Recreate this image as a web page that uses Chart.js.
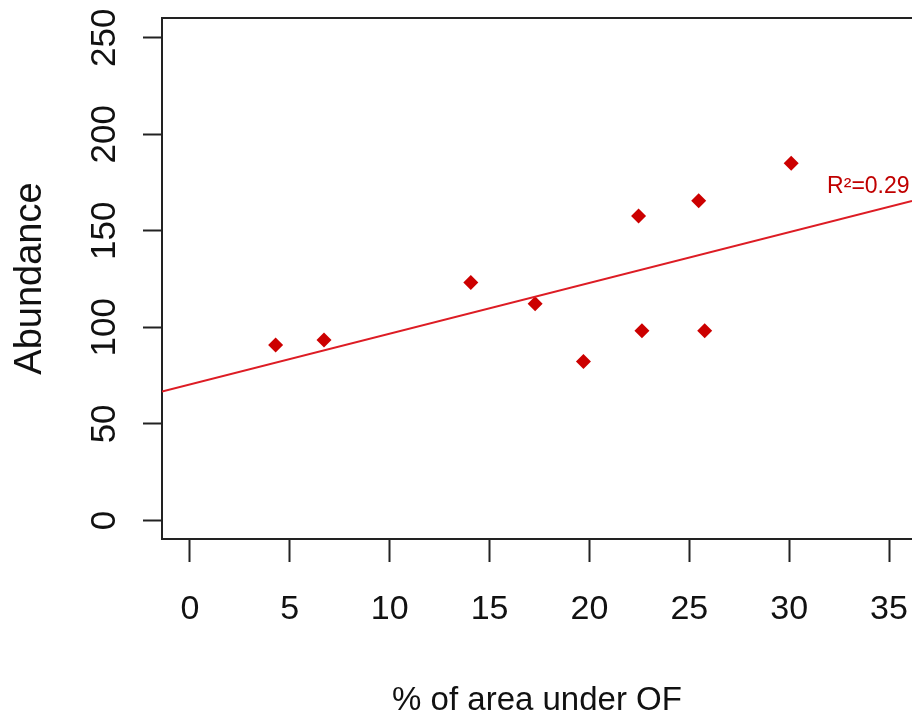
<!DOCTYPE html>
<html>
<head>
<meta charset="utf-8">
<script src="https://cdn.jsdelivr.net/npm/chart.js@4.4.1/dist/chart.umd.min.js"></script>
<style>
    html, body { margin: 0; padding: 0; background: #fff; }
    #wrap { width: 912px; height: 719px; }
</style>
</head>
<body>
<div id="wrap"><canvas id="abundanceChart" width="912" height="719"></canvas></div>
<script>
// values
const coverPct = [4.29, 6.71, 14.06, 17.28, 19.7, 22.46, 22.63, 25.47, 25.77, 30.1];
const abundance = [90.9, 93.4, 123.2, 112.2, 82.3, 157.7, 98.3, 165.5, 98.3, 185.0];

// regression line, both ends as seen at the frame edges
const fitX = [-1.4, 36.15];
const fitY = [66.8, 165.5];

const xTicks = [0, 5, 10, 15, 20, 25, 30, 35];
const yTicks = [0, 50, 100, 150, 200, 250];

const r2Label = 'R\u00B2=0.29';
const r2X = 31.9;
const r2Y = 169.6;

const axisColor = '#222';

// top edge of the R plot box (right edge is cut off in the source image)
const boxTopPlugin = {
    id: 'boxTop',
    afterDraw(chart) {
        const { ctx, chartArea } = chart;
        ctx.save();
        ctx.strokeStyle = axisColor;
        ctx.lineWidth = 2;
        ctx.beginPath();
        ctx.moveTo(chartArea.left - 1, chartArea.top);
        ctx.lineTo(chartArea.right, chartArea.top);
        ctx.stroke();
        ctx.restore();
    }
};

const r2Plugin = {
    id: 'r2Text',
    afterDatasetsDraw(chart) {
        const { ctx, scales } = chart;
        ctx.save();
        ctx.fillStyle = '#c00000';
        ctx.font = '23px "Liberation Sans", Arial, sans-serif';
        ctx.textAlign = 'left';
        ctx.textBaseline = 'alphabetic';
        ctx.fillText(r2Label, scales.x.getPixelForValue(r2X), scales.y.getPixelForValue(r2Y));
        ctx.restore();
    }
};

const ctx = document.getElementById('abundanceChart');

new Chart(ctx, {
    type: 'scatter',
    data: {
        datasets: [
            {
                type: 'line',
                label: 'fit',
                data: fitX.map((x, i) => ({ x: x, y: fitY[i] })),
                borderColor: '#dd1c24',
                borderWidth: 2,
                pointRadius: 0,
                fill: false,
                tension: 0
            },
            {
                label: 'Abundance',
                data: coverPct.map((x, i) => ({ x: x, y: abundance[i] })),
                pointStyle: 'rectRot',
                pointRadius: 7.5,
                pointBorderWidth: 0,
                backgroundColor: '#cc0000',
                borderColor: '#cc0000'
            }
        ]
    },
    options: {
        responsive: false,
        animation: false,
        layout: { autoPadding: false, padding: { top: 18, right: 0, bottom: 0, left: 0 } },
        plugins: {
            legend: { display: false },
            tooltip: { enabled: false }
        },
        scales: {
            x: {
                type: 'linear',
                min: -1.4,
                max: 36.15,
                afterFit: (scale) => {
                    scale.height = 180;
                    // let the frame run to the canvas edge like the cropped source
                    scale.paddingLeft = 0;
                    scale.paddingRight = 0;
                },
                afterBuildTicks: (scale) => { scale.ticks = xTicks.map(v => ({ value: v })); },
                grid: {
                    drawOnChartArea: false,
                    tickLength: 23,
                    tickColor: axisColor,
                    tickWidth: 2
                },
                border: { display: true, color: axisColor, width: 2 },
                ticks: {
                    color: '#111',
                    padding: 27,
                    maxRotation: 0,
                    autoSkip: false,
                    font: { family: '"Liberation Sans", Arial, sans-serif', size: 34 }
                },
                title: {
                    display: true,
                    text: '% of area under OF',
                    color: '#111',
                    padding: { top: 0, bottom: 2 },
                    font: { family: '"Liberation Sans", Arial, sans-serif', size: 33, lineHeight: 1 }
                }
            },
            y: {
                type: 'linear',
                min: -9.6,
                max: 260.2,
                afterFit: (scale) => {
                    scale.width = 162;
                    scale.paddingTop = 0;
                    scale.paddingBottom = 0;
                },
                afterBuildTicks: (scale) => { scale.ticks = yTicks.map(v => ({ value: v })); },
                grid: {
                    drawOnChartArea: false,
                    tickLength: 19,
                    tickColor: axisColor,
                    tickWidth: 2
                },
                border: { display: true, color: axisColor, width: 2 },
                ticks: {
                    color: '#111',
                    padding: 8.5,
                    minRotation: 90,
                    maxRotation: 90,
                    crossAlign: 'center',
                    autoSkip: false,
                    font: { family: '"Liberation Sans", Arial, sans-serif', size: 35 }
                },
                title: {
                    display: true,
                    text: 'Abundance',
                    color: '#111',
                    padding: { top: 12, bottom: 0 },
                    font: { family: '"Liberation Sans", Arial, sans-serif', size: 38, lineHeight: 1 }
                }
            }
        }
    },
    plugins: [boxTopPlugin, r2Plugin]
});
</script>
</body>
</html>
